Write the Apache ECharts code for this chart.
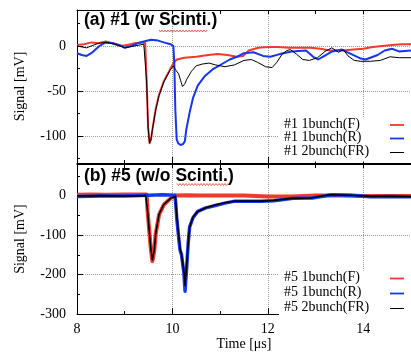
<!DOCTYPE html>
<html>
<head>
<meta charset="utf-8">
<script src="https://cdn.jsdelivr.net/npm/echarts@6/dist/echarts.min.js"></script>
<style>html,body{margin:0;padding:0;background:#fff}#c{width:411px;height:352px}</style>
</head>
<body>
<div id="c"></div>
<script>
// ---------- data ----------
// Panel (a): #1 (w Scinti.)
const a_F_t = [8.0,8.15,8.3,8.45,8.6,8.75,8.9,9.05,9.2,9.35,9.43,9.46,9.49,9.52,9.535,9.55,9.58,9.65,9.72,9.82,9.95,10.02,10.09,10.25,10.5,10.75,10.95,11.15,11.35,11.48,11.6,11.8,12.0,12.2,12.45,12.7,12.9,13.1,13.3,13.55,13.8,14.0,14.2,14.4,14.6,14.8,15.0];
const a_F_v = [1,2,4,3,5,3,0,1,3,4,3,-40,-90,-108,-109,-104,-93,-70,-54,-39,-26,-19,-15,-13,-12,-10,-9,-10,-12,-11,-5,-2,-1,-1,-2,-2,-2,-3,-5,-5,-4,-3,-1,0,1,2,2];

const a_R_t = [8.0,8.1,8.2,8.3,8.47,8.6,8.75,8.9,9.0,9.14,9.27,9.4,9.55,9.7,9.82,9.96,10.02,10.04,10.06,10.09,10.12,10.17,10.22,10.26,10.29,10.36,10.43,10.53,10.67,10.84,11.04,11.2,11.35,11.5,11.7,11.9,12.05,12.25,12.5,12.8,12.95,13.05,13.15,13.35,13.55,13.75,13.95,14.05,14.3,14.45,14.6,14.75,15.0];
const a_R_v = [-8,-10,-11,-8,0,4,3,1,-2,0,3,5,7,6,4,2,0,-20,-70,-104,-108,-110,-109,-106,-93,-74,-58,-44,-34,-26,-20,-15,-12,-8,-7,-11,-12,-9,-6,-5,-12,-15,-12,-6,-4,-9,-14,-15,-10,-5,-3,-6,-5];

const a_FR_t = [8.0,8.2,8.45,8.6,8.8,9.0,9.2,9.4,9.43,9.46,9.49,9.52,9.535,9.55,9.58,9.65,9.72,9.82,9.95,10.02,10.06,10.13,10.17,10.21,10.23,10.26,10.3,10.4,10.5,10.63,10.77,10.9,11.1,11.3,11.5,11.65,11.78,11.95,12.09,12.19,12.3,12.4,12.47,12.6,12.73,12.87,13.04,13.2,13.34,13.48,13.58,13.68,13.81,13.95,14.15,14.36,14.56,14.76,15.0];
const a_FR_v = [0,-2,3,4,2,-2,0,2,2,-40,-90,-108,-110,-104,-93,-71,-55,-40,-27,-22,-26,-31,-38,-45,-47,-42,-37,-28,-22,-20,-19,-21,-23,-21,-16,-15,-18,-23,-24,-18,-9,-5,-4,-9,-15,-16,-13,-6,-2,-7,-4,-11,-16,-17,-17,-16,-12,-13,-13];

// Panel (b): #5 (w/o Scinti.)
const b_F_t = [8.0,8.3,8.6,9.0,9.3,9.46,9.48,9.52,9.55,9.58,9.62,9.65,9.72,9.82,9.96,10.06,10.3,10.6,11.0,11.5,12.0,12.5,13.0,13.5,14.0,14.5,15.0];
const b_F_v = [2,3,2,3,3,3,-40,-97,-137,-166,-140,-97,-48,-23,-7,0,1,0,0,0,-2,-2,0,0,-1,-1,-1];

const b_R_t = [8.0,8.5,9.0,9.5,9.8,10.05,10.07,10.09,10.13,10.16,10.19,10.21,10.24,10.265,10.285,10.3,10.33,10.36,10.43,10.53,10.7,10.9,11.1,11.31,11.6,11.85,12.12,12.53,12.93,13.34,13.75,14.15,14.56,15.0];
const b_R_v = [-2,-1,-1,1,2,1,-20,-56,-105,-138,-150,-155,-195,-242,-205,-179,-121,-80,-56,-40,-31,-25,-19,-14,-14,-14,-13,-7,-6,2,1,-3,-2,-3];

const b_FR_t = [8.0,8.5,9.0,9.44,9.46,9.48,9.52,9.55,9.58,9.62,9.65,9.72,9.82,9.96,10.06,10.09,10.13,10.16,10.19,10.21,10.25,10.265,10.28,10.3,10.33,10.36,10.43,10.53,10.7,10.9,11.1,11.3,11.6,11.85,12.12,12.5,12.9,13.3,13.75,14.15,14.56,15.0];
const b_FR_v = [-1,0,-1,0,3,-40,-97,-137,-163,-138,-95,-47,-22,-7,-2,-50,-100,-135,-148,-152,-200,-228,-205,-175,-120,-80,-55,-40,-31,-24,-18,-14,-14,-14,-12,-7,-6,2,1,-2,-2,-3];

const xMajor = [8,10,12,14];
const xMinor = [9,11,13];
const yMajorA = [-100,-50,0];
const yMinorA = [-125,-75,-25,25];
const yMajorB = [-300,-200,-100,0];
const yMinorB = [-250,-150,-50,50];

const legendA = ['#1 1bunch(F)','#1 1bunch(R)','#1 2bunch(FR)'];
const legendB = ['#5 1bunch(F)','#5 1bunch(R)','#5 2bunch(FR)'];
const titleA = '(a) #1 (w Scinti.)';
const titleB = '(b) #5 (w/o Scinti.)';

// ---------- styling ----------
const RED = '#f2392c', BLUE = '#1636f5', BLACK = '#000000';
const SERIF = '"Liberation Serif","DejaVu Serif",serif';
const SANS = '"Liberation Sans",Arial,sans-serif';
const zip = (t, v) => t.map((x, i) => [x, v[i]]);

const chart = echarts.init(document.getElementById('c'), null, {renderer: 'canvas'});

const G0 = {left: 77, top: 10, width: 345, height: 153};
const G1 = {left: 77, top: 164, width: 345, height: 155.3};

function xMaj(grid, showLabels) {
  return {
    type: 'value', gridIndex: grid, min: 8, max: 15, position: 'bottom',
    axisLine: {show: true, onZero: false, lineStyle: {color: '#000', width: 1}},
    axisTick: {show: true, inside: true, length: 6, customValues: xMajor, lineStyle: {color: '#000'}},
    axisLabel: {show: showLabels, customValues: xMajor, color: '#000', fontFamily: SERIF, fontSize: 14, margin: 8},
    splitLine: {show: true, lineStyle: {color: '#9a9a9a', type: 'dotted', width: 1}},
    name: showLabels ? 'Time [μs]' : '', nameLocation: 'middle', nameGap: 19,
    nameTextStyle: {color: '#000', fontFamily: SERIF, fontSize: 14}
  };
}
function xMin(grid) {
  return {
    type: 'value', gridIndex: grid, min: 8, max: 15, position: 'bottom',
    axisLine: {show: false, onZero: false},
    axisTick: {show: true, inside: true, length: 3, customValues: xMinor, lineStyle: {color: '#000'}},
    axisLabel: {show: false}, splitLine: {show: false}
  };
}
function xTop(grid) {
  return {
    type: 'value', gridIndex: grid, min: 8, max: 15, position: 'top',
    axisLine: {show: true, onZero: false, lineStyle: {color: '#000', width: 1}},
    axisTick: {show: true, inside: true, length: 4, customValues: [8,9,10,11,12,13,14], lineStyle: {color: '#000'}},
    axisLabel: {show: false}, splitLine: {show: false}
  };
}
function yMaj(grid, min, max, ticks) {
  return {
    type: 'value', gridIndex: grid, min: min, max: max, position: 'left',
    axisLine: {show: true, onZero: false, lineStyle: {color: '#000', width: 1}},
    axisTick: {show: true, inside: true, length: 6, customValues: ticks, lineStyle: {color: '#000'}},
    axisLabel: {show: true, customValues: ticks, color: '#000', fontFamily: SERIF, fontSize: 14, margin: 11},
    splitLine: {show: true, lineStyle: {color: '#9a9a9a', type: 'dotted', width: 1}},
    name: 'Signal [mV]', nameLocation: 'middle', nameGap: 50,
    nameTextStyle: {color: '#000', fontFamily: SERIF, fontSize: 14}
  };
}
function yMin(grid, min, max, ticks) {
  return {
    type: 'value', gridIndex: grid, min: min, max: max, position: 'left',
    axisLine: {show: false, onZero: false},
    axisTick: {show: true, inside: true, length: 3, customValues: ticks, lineStyle: {color: '#000'}},
    axisLabel: {show: false}, splitLine: {show: false}
  };
}

function line(name, data, color, width, xi, yi) {
  return {
    name: name, type: 'line', data: data, xAxisIndex: xi, yAxisIndex: yi,
    showSymbol: false, symbol: 'none', lineStyle: {color: color, width: width, join: 'round'},
    itemStyle: {color: color}, animation: false, clip: true
  };
}

// key boxes (opaque, as in the original) + legend text and samples
function legendGraphics(labels, ys) {
  const cols = [RED, BLUE, BLACK];
  const out = [{type: 'rect', shape: {x: 279, y: ys[0] - 8, width: 140, height: ys[2] - ys[0] + 17}, style: {fill: '#fff'}, z: 50}];
  labels.forEach((lab, i) => {
    out.push({type: 'text', left: 284, top: ys[i] - 8, z: 51, style: {text: lab, fill: '#000', font: '14px ' + SERIF}});
    out.push({type: 'line', z: 51, shape: {x1: 390, y1: ys[i], x2: 404, y2: ys[i]}, style: {stroke: cols[i], lineWidth: i === 2 ? 1 : 1.8}});
  });
  return out;
}
function wavy(x1, x2, y) {
  const pts = [];
  let k = 0;
  for (let x = x1; x <= x2; x += 1.5, k++) pts.push([x, y + (k % 2 ? 1 : -1)]);
  return {type: 'polyline', z: 52, shape: {points: pts}, style: {stroke: '#e23b2f', lineWidth: 0.8, fill: null}};
}

const option = {
  animation: false,
  backgroundColor: '#fff',
  grid: [G0, G1],
  xAxis: [xMaj(0, false), xMin(0), xTop(0), xMaj(1, true), xMin(1), xTop(1)],
  yAxis: [yMaj(0, -130, 40, yMajorA), yMin(0, -130, 40, yMinorA), yMaj(1, -300, 80, yMajorB), yMin(1, -300, 80, yMinorB)],
  series: [
    line(legendA[0], zip(a_F_t, a_F_v), RED, 2, 0, 0),
    line(legendA[1], zip(a_R_t, a_R_v), BLUE, 2, 0, 0),
    line(legendA[2], zip(a_FR_t, a_FR_v), BLACK, 1, 0, 0),
    line(legendB[0], zip(b_F_t, b_F_v), RED, 4, 3, 2),
    line(legendB[1], zip(b_R_t, b_R_v), BLUE, 3.5, 3, 2),
    line(legendB[2], zip(b_FR_t, b_FR_v), BLACK, 1.6, 3, 2)
  ],
  graphic: [
    {type: 'text', left: 84, top: 11, z: 52, style: {text: titleA, fill: '#000', font: 'bold 17.5px ' + SANS}},
    {type: 'text', left: 84, top: 167.5, z: 52, style: {text: titleB, fill: '#000', font: 'bold 17.5px ' + SANS}},
    wavy(159, 207, 31),
    wavy(177, 228, 184.5)
  ].concat(legendGraphics(legendA, [125, 138.5, 152.5])).concat(legendGraphics(legendB, [278.5, 293.5, 308.5]))
};
chart.setOption(option);
</script>
</body>
</html>
